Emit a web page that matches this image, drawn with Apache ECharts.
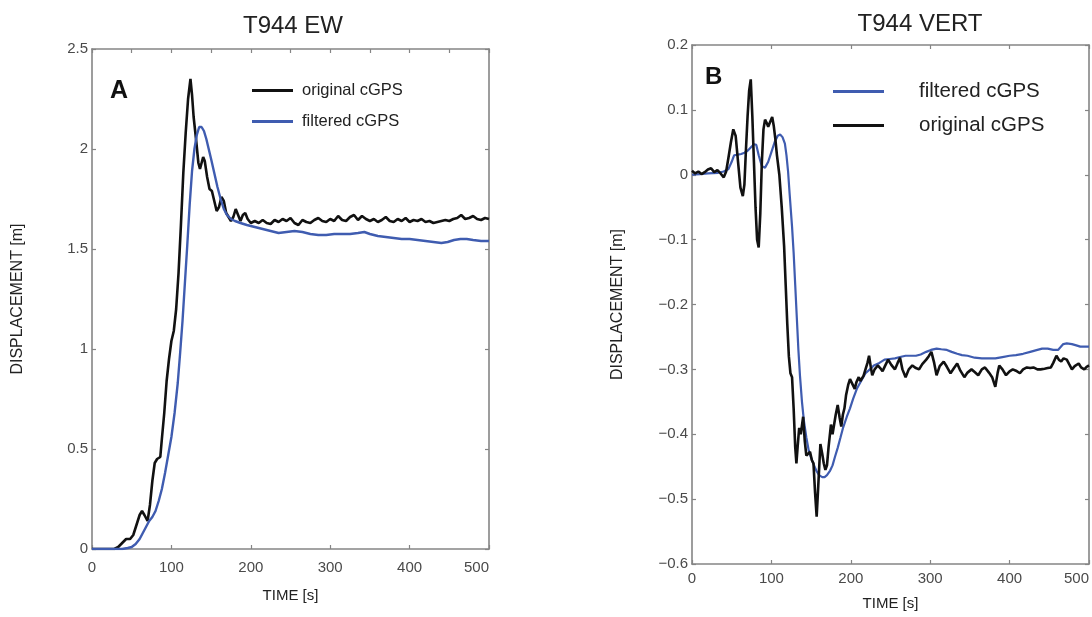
<!DOCTYPE html>
<html>
<head>
<meta charset="utf-8">
<script src="https://cdn.jsdelivr.net/npm/echarts@6/dist/echarts.min.js"></script>
<style>
  html, body { margin: 0; padding: 0; background: #fff; }
  #chart { width: 1092px; height: 617px; }
</style>
</head>
<body>
<div id="chart"></div>
<script>
// T944 station, east-west component: [time s, displacement m]
const ewOriginal = [
  [0,0],[10,0],[20,0],[28,0],[33,0.01],[38,0.03],[43,0.05],[48,0.05],[52,0.07],[56,0.12],[60,0.17],[63,0.19],
  [66,0.17],[70,0.14],[73,0.22],[76,0.34],[79,0.43],[82,0.45],[86,0.46],[88,0.55],[91,0.68],[94,0.84],[97,0.95],
  [100,1.04],[103,1.09],[106,1.2],[109,1.38],[112,1.62],[115,1.88],[118,2.08],[121,2.25],[124,2.35],[126,2.27],
  [128,2.16],[131,2.05],[134,1.93],[136,1.9],[138,1.89],[140,1.96],[142,1.94],[145,1.86],[148,1.8],[151,1.79],
  [154,1.74],[157,1.69],[160,1.71],[163,1.76],[166,1.74],[169,1.68],[172,1.66],[175,1.64],[178,1.66],[181,1.7],
  [184,1.67],[187,1.64],[190,1.67],[193,1.68],[196,1.65],[200,1.63],[205,1.64],[210,1.63],[215,1.645],[220,1.63],
  [225,1.625],[230,1.645],[235,1.635],[240,1.65],[245,1.64],[250,1.655],[255,1.63],[260,1.62],[265,1.645],
  [270,1.635],[275,1.63],[280,1.645],[285,1.655],[290,1.64],[295,1.635],[300,1.65],[305,1.64],[310,1.665],
  [315,1.645],[320,1.64],[325,1.66],[330,1.67],[335,1.645],[340,1.665],[345,1.65],[350,1.64],[355,1.65],
  [360,1.635],[365,1.645],[370,1.66],[375,1.64],[380,1.635],[385,1.65],[390,1.64],[395,1.655],[400,1.635],
  [405,1.645],[410,1.64],[415,1.65],[420,1.635],[425,1.64],[430,1.63],[435,1.635],[440,1.64],[445,1.645],
  [450,1.64],[455,1.65],[460,1.655],[465,1.67],[470,1.65],[475,1.655],[480,1.665],[485,1.65],[490,1.645],
  [495,1.655],[500,1.65]
];
const ewFiltered = [
  [0,0],[20,0],[38,0],[45,0.005],[50,0.01],[55,0.025],[60,0.05],[64,0.08],[68,0.11],[72,0.14],[76,0.16],
  [80,0.19],[84,0.24],[88,0.3],[92,0.38],[96,0.47],[100,0.56],[104,0.68],[108,0.83],[111,0.98],[114,1.14],
  [117,1.33],[120,1.52],[123,1.72],[126,1.89],[129,2.0],[132,2.07],[135,2.11],[138,2.11],[141,2.09],[144,2.05],
  [147,2.0],[150,1.95],[154,1.88],[158,1.81],[162,1.75],[166,1.7],[170,1.67],[175,1.65],[180,1.64],[187,1.63],
  [195,1.62],[205,1.61],[215,1.6],[225,1.59],[235,1.58],[245,1.585],[255,1.59],[265,1.585],[275,1.575],
  [285,1.57],[295,1.57],[305,1.575],[315,1.575],[325,1.575],[335,1.58],[343,1.585],[350,1.575],[360,1.565],
  [370,1.56],[380,1.555],[390,1.55],[400,1.55],[410,1.545],[420,1.54],[430,1.535],[440,1.53],[448,1.535],
  [456,1.545],[464,1.55],[472,1.55],[480,1.545],[490,1.54],[500,1.54]
];

// T944 station, vertical component: [time s, displacement m]
const vertOriginal = [
  [0,0.006],[4,0.002],[8,0.005],[12,0.001],[16,0.004],[20,0.008],[24,0.01],[28,0.004],[32,0.007],[36,0.002],
  [40,-0.004],[43,0.005],[46,0.027],[49,0.05],[52,0.07],[55,0.06],[58,0.02],[61,-0.02],[64,-0.033],[66,-0.015],
  [68,0.04],[70,0.09],[72,0.13],[74,0.147],[76,0.09],[78,0.02],[80,-0.05],[82,-0.1],[84,-0.112],[86,-0.06],
  [88,0.02],[90,0.07],[92,0.085],[94,0.08],[96,0.074],[98,0.08],[101,0.089],[103,0.075],[105,0.055],[107,0.03],
  [110,0.0],[113,-0.05],[116,-0.11],[118,-0.17],[120,-0.23],[122,-0.28],[124,-0.306],[126,-0.312],[128,-0.36],
  [130,-0.42],[131.5,-0.445],[133,-0.42],[135,-0.39],[137,-0.4],[140,-0.373],[142,-0.41],[144,-0.433],
  [146,-0.43],[148.6,-0.427],[151,-0.44],[153,-0.445],[155,-0.49],[157,-0.527],[159,-0.48],[161.7,-0.415],
  [164,-0.43],[166,-0.445],[168,-0.455],[170,-0.448],[172,-0.42],[175,-0.385],[177,-0.4],[179,-0.385],
  [181,-0.37],[183.5,-0.355],[186,-0.375],[188,-0.388],[190,-0.37],[192,-0.36],[194,-0.34],[196.7,-0.324],
  [199,-0.315],[201,-0.312],[203,-0.325],[205,-0.33],[207,-0.32],[210,-0.312],[212,-0.318],[214,-0.321],
  [216,-0.31],[218.5,-0.3],[221,-0.29],[223,-0.279],[225,-0.295],[227,-0.309],[230,-0.3],[234,-0.294],
  [237,-0.298],[240,-0.303],[243,-0.295],[247,-0.285],[251,-0.293],[255.6,-0.3],[259,-0.29],[262,-0.282],
  [265,-0.3],[269,-0.312],[273,-0.3],[277.5,-0.294],[282,-0.298],[286,-0.3],[290,-0.292],[295,-0.285],
  [298,-0.28],[301.5,-0.273],[305,-0.29],[308,-0.309],[312,-0.295],[317,-0.288],[321,-0.296],[325.6,-0.306],
  [330,-0.298],[334,-0.291],[338,-0.302],[343,-0.312],[347,-0.305],[352,-0.3],[356,-0.304],[360.5,-0.309],
  [365,-0.3],[369,-0.297],[374,-0.305],[378,-0.312],[382,-0.327],[385,-0.305],[387,-0.294],[391,-0.3],
  [395.5,-0.309],[400,-0.303],[404,-0.3],[408,-0.302],[413,-0.306],[417,-0.3],[421.7,-0.297],[426,-0.298],
  [430,-0.297],[435,-0.3],[439,-0.3],[444,-0.299],[448,-0.298],[452,-0.297],[455,-0.29],[459,-0.279],
  [462,-0.285],[465,-0.288],[468,-0.283],[472,-0.285],[475,-0.292],[478.5,-0.3],[482,-0.295],[487,-0.291],
  [490,-0.297],[494,-0.3],[497,-0.296],[500,-0.294]
];
const vertFiltered = [
  [0,0],[10,0.001],[20,0.002],[33,0.003],[40,0.005],[46,0.009],[50,0.02],[53,0.03],[58,0.031],[62,0.032],
  [66,0.034],[70,0.037],[74,0.042],[78,0.047],[81,0.046],[84,0.03],[88,0.013],[92,0.011],[96,0.02],[100,0.035],
  [104,0.05],[108,0.06],[111,0.062],[114,0.058],[117,0.048],[119,0.03],[121,0.005],[123,-0.03],[126,-0.08],
  [128,-0.12],[130,-0.17],[132,-0.22],[134,-0.27],[136,-0.31],[138.5,-0.35],[141,-0.38],[144,-0.405],
  [147,-0.425],[150.8,-0.439],[154,-0.449],[157,-0.457],[160,-0.463],[164,-0.466],[167,-0.466],[170,-0.463],
  [174,-0.456],[177,-0.448],[180,-0.435],[183.5,-0.421],[187,-0.405],[190,-0.391],[195,-0.373],[199,-0.36],
  [203,-0.345],[207.6,-0.33],[213,-0.318],[218.5,-0.306],[224,-0.3],[229,-0.294],[236,-0.29],[242.5,-0.285],
  [249,-0.284],[255.6,-0.283],[262,-0.281],[269,-0.279],[276,-0.279],[282,-0.279],[288,-0.277],[295,-0.273],
  [301,-0.27],[308,-0.268],[314,-0.269],[321,-0.27],[327,-0.273],[334,-0.276],[340,-0.278],[347,-0.279],
  [356,-0.282],[365,-0.283],[374,-0.283],[382,-0.283],[391,-0.281],[400,-0.279],[408,-0.278],[417,-0.276],
  [426,-0.273],[435,-0.27],[441,-0.268],[448,-0.268],[455,-0.27],[461,-0.27],[464,-0.266],[467.6,-0.261],
  [472,-0.26],[478.5,-0.261],[484,-0.263],[489,-0.265],[494,-0.265],[500,-0.265]
];

const panelTitles = ['T944 EW', 'T944 VERT'];
const panelLetters = ['A', 'B'];
const seriesNames = ['original cGPS', 'filtered cGPS'];
const xName = 'TIME [s]';
const yName = 'DISPLACEMENT [m]';

const FONT = '"Liberation Sans", Arial, sans-serif';
const BOX = '#858585';
const LABEL = '#4a4a4a';
const BLACK = '#111111';
const BLUE = '#3f5cb0';

const fmtTick = v => {
  const r = Math.round(v * 10) / 10;
  return r === 0 ? '0' : String(r).replace('-', '\u2212');
};

// value axis drawn as one side of a closed frame, ticks pointing inward
function boxAxis(extra) {
  return Object.assign({
    type: 'value',
    axisLine: { show: true, onZero: false, lineStyle: { color: BOX, width: 1.6 } },
    axisTick: { show: true, inside: true, length: 4, lineStyle: { color: BOX, width: 1.2 } },
    splitLine: { show: false },
    axisLabel: { show: false }
  }, extra);
}

const grids = [
  { left: 92, top: 49, width: 397, height: 500 },
  { left: 692, top: 45, width: 399, height: 519 }
];

const option = {
  backgroundColor: '#ffffff',
  animation: false,
  title: [
    { text: panelTitles[0], left: 293, top: 14, textAlign: 'center', padding: 0,
      textStyle: { fontFamily: FONT, fontSize: 24, fontWeight: 'normal', color: '#222' } },
    { text: panelTitles[1], left: 920, top: 12, textAlign: 'center', padding: 0,
      textStyle: { fontFamily: FONT, fontSize: 24, fontWeight: 'normal', color: '#222' } }
  ],
  legend: [
    { data: [seriesNames[0], seriesNames[1]], orient: 'vertical', left: 252, top: 82, padding: 0,
      icon: 'rect', itemWidth: 41, itemHeight: 3, itemGap: 14,
      textStyle: { fontFamily: FONT, fontSize: 16.5, color: '#222', padding: [0, 0, 0, 4] } },
    { data: [seriesNames[1], seriesNames[0]], orient: 'vertical', left: 833, top: 81, padding: 0,
      icon: 'rect', itemWidth: 51, itemHeight: 3, itemGap: 13,
      textStyle: { fontFamily: FONT, fontSize: 20.5, color: '#222', padding: [0, 0, 0, 30] } }
  ],
  grid: grids,
  xAxis: [
    boxAxis({ gridIndex: 0, position: 'bottom', min: 0, max: 500, interval: 100,
      name: xName, nameLocation: 'middle', nameGap: 39,
      nameTextStyle: { fontFamily: FONT, fontSize: 15, color: '#222' },
      axisLabel: { show: true, margin: 11, fontFamily: FONT, fontSize: 15, color: LABEL, alignMaxLabel: 'right' } }),
    boxAxis({ gridIndex: 0, position: 'top', min: 0, max: 500, interval: 50 }),
    boxAxis({ gridIndex: 1, position: 'bottom', min: 0, max: 500, interval: 100,
      name: xName, nameLocation: 'middle', nameGap: 32,
      nameTextStyle: { fontFamily: FONT, fontSize: 15, color: '#222' },
      axisLabel: { show: true, margin: 7, fontFamily: FONT, fontSize: 15, color: LABEL, alignMaxLabel: 'right' } }),
    boxAxis({ gridIndex: 1, position: 'top', min: 0, max: 500, interval: 100 })
  ],
  yAxis: [
    boxAxis({ gridIndex: 0, position: 'left', min: 0, max: 2.5, interval: 0.5,
      name: yName, nameLocation: 'middle', nameGap: 66, nameRotate: 90,
      nameTextStyle: { fontFamily: FONT, fontSize: 16, color: '#222' },
      axisLabel: { show: true, margin: 4, fontFamily: FONT, fontSize: 15, color: LABEL, formatter: fmtTick } }),
    boxAxis({ gridIndex: 0, position: 'right', min: 0, max: 2.5, interval: 0.5 }),
    boxAxis({ gridIndex: 1, position: 'left', min: -0.6, max: 0.2, interval: 0.1,
      name: yName, nameLocation: 'middle', nameGap: 66, nameRotate: 90,
      nameTextStyle: { fontFamily: FONT, fontSize: 16, color: '#222' },
      axisLabel: { show: true, margin: 4, fontFamily: FONT, fontSize: 15, color: LABEL, formatter: fmtTick } }),
    boxAxis({ gridIndex: 1, position: 'right', min: -0.6, max: 0.2, interval: 0.1 })
  ],
  graphic: [
    { type: 'text', left: 110, top: 79, style: { text: panelLetters[0], fontFamily: FONT, fontSize: 25, fontWeight: 'bold', fill: '#111' } },
    { type: 'text', left: 705, top: 65, style: { text: panelLetters[1], fontFamily: FONT, fontSize: 24, fontWeight: 'bold', fill: '#111' } }
  ],
  series: [
    { name: seriesNames[0], type: 'line', xAxisIndex: 0, yAxisIndex: 0, data: ewOriginal,
      symbol: 'none', itemStyle: { color: BLACK }, lineStyle: { color: BLACK, width: 2.6 }, z: 3 },
    { name: seriesNames[1], type: 'line', xAxisIndex: 0, yAxisIndex: 0, data: ewFiltered,
      symbol: 'none', itemStyle: { color: BLUE }, lineStyle: { color: BLUE, width: 2.4 }, z: 4 },
    { name: seriesNames[0], type: 'line', xAxisIndex: 2, yAxisIndex: 2, data: vertOriginal,
      symbol: 'none', itemStyle: { color: BLACK }, lineStyle: { color: BLACK, width: 2.6 }, z: 4 },
    { name: seriesNames[1], type: 'line', xAxisIndex: 2, yAxisIndex: 2, data: vertFiltered,
      symbol: 'none', itemStyle: { color: BLUE }, lineStyle: { color: BLUE, width: 2.2 }, z: 3 }
  ]
};

const chart = echarts.init(document.getElementById('chart'), null, { renderer: 'canvas' });
chart.setOption(option);
</script>
</body>
</html>
